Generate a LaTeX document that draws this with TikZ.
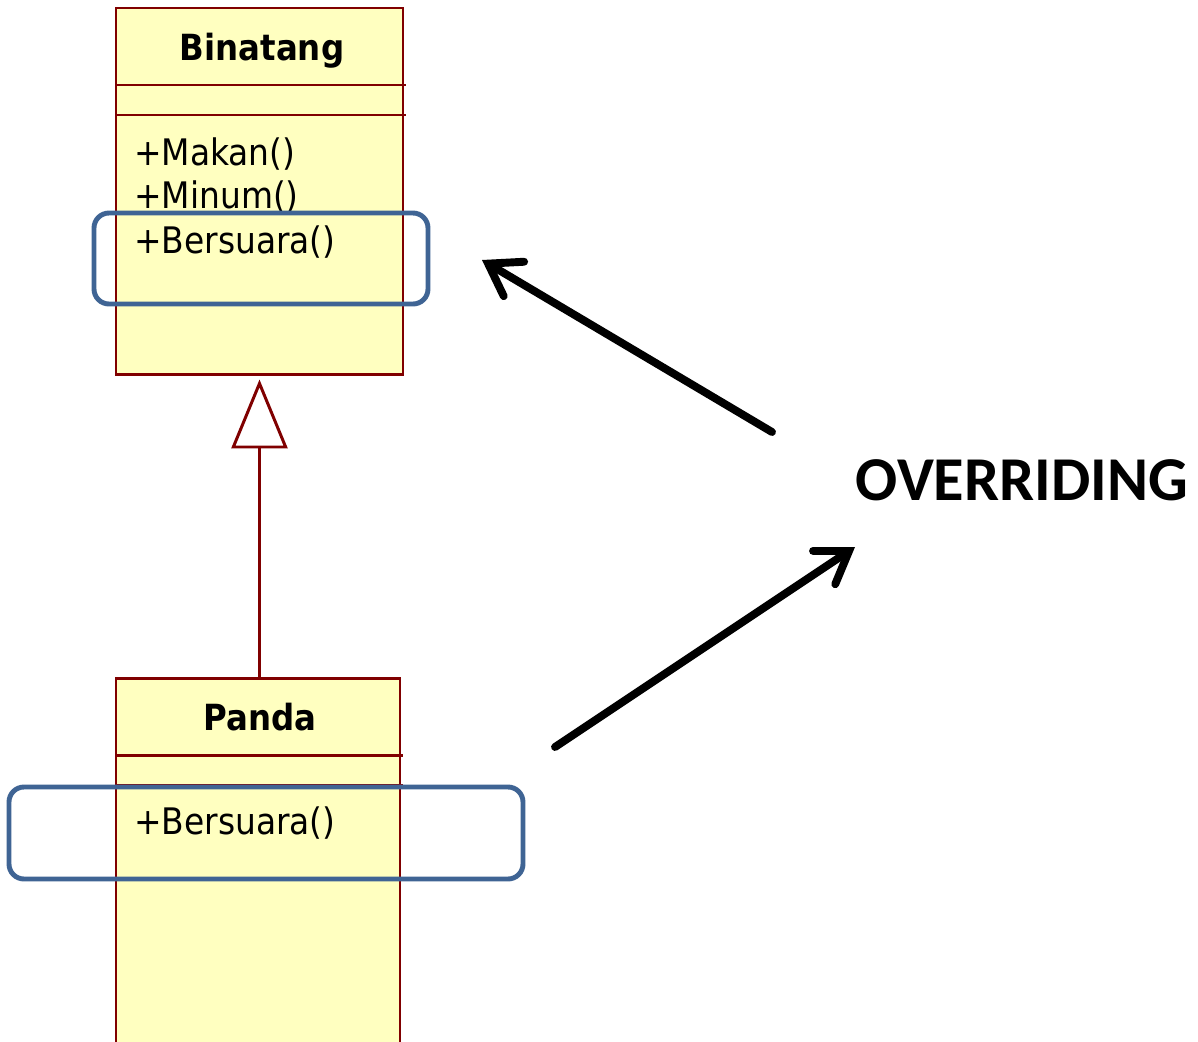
\documentclass[tikz,border=0pt]{standalone}
\usepackage{fontspec}
\setmainfont{DejaVu Sans Condensed}
\newfontfamily\calfont{Carlito}
\usetikzlibrary{arrows.meta,fit}
\definecolor{umlred}{HTML}{800000}
\definecolor{umlfill}{HTML}{FFFFC0}
\definecolor{hiblue}{HTML}{3F6494}

\begin{document}
\begin{tikzpicture}[x=0.02cm,y=-0.02cm,
	classbox/.style={draw=umlred,fill=umlfill,line width=1.7pt,inner sep=0pt},
	sepline/.style={draw=umlred,line width=1.7pt},
	member/.style={anchor=base west,inner sep=0pt,font=\fontsize{20.8}{24}\selectfont},
	classname/.style={anchor=base,inner sep=0pt,font=\fontsize{20.5}{24}\selectfont\bfseries},
	hilite/.style={draw=hiblue,line width=2.8pt,rounded corners=0.3cm,inner sep=0pt},
	pointer/.style={line width=4.5pt,line cap=round,-{Straight Barb[length=0.6cm,width=0.8cm,line cap=round]}},
	inherit/.style={draw=umlred,line width=1.7pt,shorten >=0.08cm,-{Triangle[length=1.38cm,width=1.12cm,fill=white]}}]
			\useasboundingbox (0,0) rectangle (1198,1042);
			\node[classbox,fit={(116,8) (403,374)}] (binatang) {};
			\node[classbox,fit={(116,678) (400,1050)}] (panda) {};
			\draw[sepline] (116,85) -- (406,85);
			\draw[sepline] (116,115) -- (406,115);
			\draw[sepline] (116,755) -- (403,755);
			\draw[sepline] (116,785) -- (403,785);
			\node[classname] (nbinatang) at (262,60) {Binatang};
			\node[classname] (npanda) at (260,730) {Panda};
			\node[member] (makan) at (134,165) {+Makan()};
			\node[member] (minum) at (134,208) {+Minum()};
			\node[member] (bersuara) at (134,253) {+Bersuara()};
			\node[member] (pbersuara) at (134,834) {+Bersuara()};
			\draw[inherit] (panda.north -| binatang.south) -- (binatang.south);
			\node[hilite,fit={(94,213) (428,304)}] (hbinatang) {};
			\node[hilite,fit={(9,787) (523,879)}] (hpanda) {};
			\node[anchor=base,inner sep=0pt,font=\calfont\fontsize{35.5}{40}\selectfont\bfseries] (overriding) at (1022,500) {OVERRIDING};
			\coordinate (up1) at (772,432);
			\coordinate (up2) at (482,260);
			\coordinate (down1) at (555,747);
			\coordinate (down2) at (855,547);
			\draw[pointer] (up1) -- (up2);
			\draw[pointer] (down1) -- (down2);
\end{tikzpicture}
\end{document}
